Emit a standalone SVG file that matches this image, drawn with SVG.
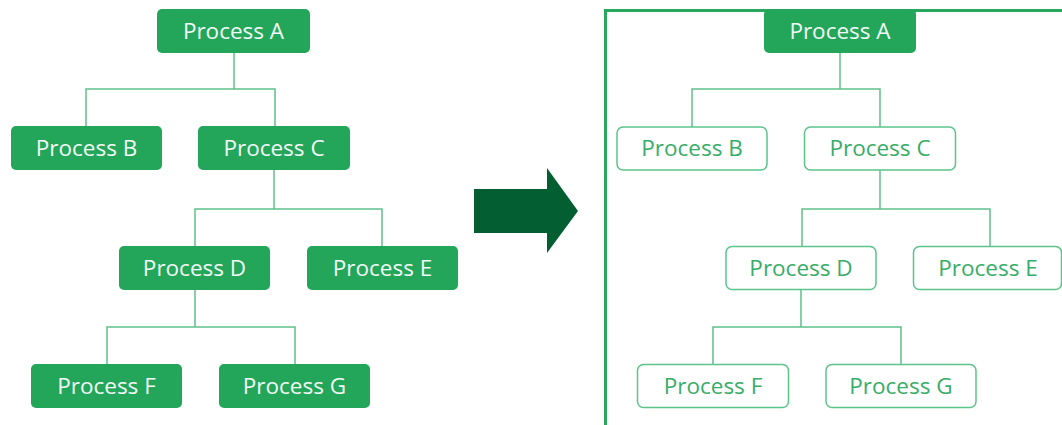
<svg xmlns="http://www.w3.org/2000/svg" width="1062" height="425" viewBox="0 0 1062 425">
<style>
.f rect{fill:#23a55a;}
.f text{fill:#f2fbf5;}
.o rect{fill:#fff;stroke:#5cc38a;stroke-width:1.5;}
.o text{fill:#37ad68;}
text{font-family:"Open Sans","Noto Sans",sans-serif;font-size:22.5px;text-anchor:middle;dominant-baseline:central;}
.c{fill:none;stroke:#5fc08b;stroke-width:1.5;}
</style>
<rect width="1062" height="425" fill="#fff"/>
<g id="connectors">
<path class="c" d="M234 53V89M86 126V89H275V126M274 170V209M195 246V209H382V246M195 290V327M107 364V327H295V364"/>
<path class="c" d="M840 53V89M692 127V89H880V127M880 170V209M802 246V209H990V246M801 290V327M713 364V327H901V364"/>
</g>
<path id="frame" d="M605.5 425V10.5H1062" fill="none" stroke="#28a85c" stroke-width="3"/>
<polygon id="arrow" points="474,189 547,189 547,168 578,211 547,253 547,233 474,233" fill="#035e31"/>
<g id="lA" class="f"><rect x="157" y="9" width="153" height="44" rx="5"/><text x="233.5" y="30">Process A</text></g>
<g id="lB" class="f"><rect x="11" y="126" width="151" height="44" rx="5"/><text x="86.5" y="147">Process B</text></g>
<g id="lC" class="f"><rect x="198" y="126" width="152" height="44" rx="5"/><text x="274" y="147">Process C</text></g>
<g id="lD" class="f"><rect x="119" y="246" width="151" height="44" rx="5"/><text x="194.5" y="267">Process D</text></g>
<g id="lE" class="f"><rect x="307" y="246" width="151" height="44" rx="5"/><text x="382.5" y="267">Process E</text></g>
<g id="lF" class="f"><rect x="31" y="364" width="151" height="44" rx="5"/><text x="106.5" y="385">Process F</text></g>
<g id="lG" class="f"><rect x="219" y="364" width="151" height="44" rx="5"/><text x="294.5" y="385">Process G</text></g>
<g id="rA" class="f"><rect x="764" y="9" width="152" height="44" rx="5"/><text x="840" y="30">Process A</text></g>
<g id="rB" class="o"><rect x="617" y="127" width="150" height="43" rx="6"/><text x="692" y="147.5">Process B</text></g>
<g id="rC" class="o"><rect x="804.5" y="127" width="151" height="43" rx="6"/><text x="880" y="147.5">Process C</text></g>
<g id="rD" class="o"><rect x="726" y="246.5" width="150" height="43" rx="6"/><text x="801" y="267">Process D</text></g>
<g id="rE" class="o"><rect x="913.5" y="246.5" width="148" height="43" rx="6"/><text x="988" y="267">Process E</text></g>
<g id="rF" class="o"><rect x="637.5" y="364.5" width="151" height="43" rx="6"/><text x="713" y="385">Process F</text></g>
<g id="rG" class="o"><rect x="826" y="364.5" width="150" height="43" rx="6"/><text x="901" y="385">Process G</text></g>
</svg>
